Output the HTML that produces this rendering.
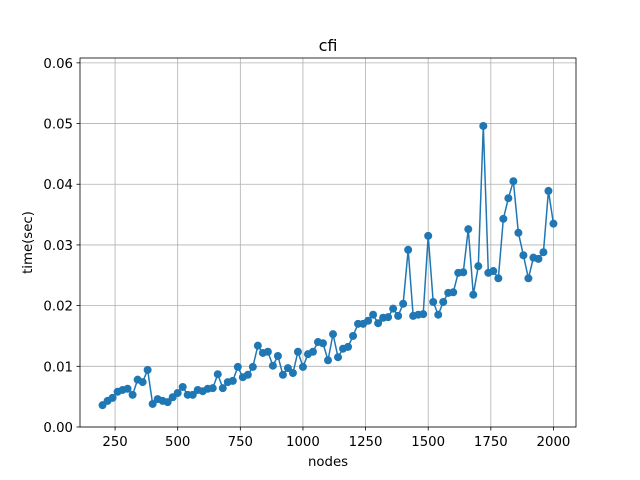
<!DOCTYPE html>
<html><head><meta charset="utf-8"><style>body{margin:0;background:#fff}svg{display:block;font-family:"DejaVu Sans","Liberation Sans",sans-serif}</style></head>
<body>
<svg id="c" width="640" height="480" viewBox="0 0 640 480"></svg>
<script>
const xValues=[];for(let n=200;n<=2000;n+=20)xValues.push(n);
const yValues=[0.0036,0.0043,0.0048,0.0058,0.0061,0.0063,0.0053,0.0078,0.0074,0.0094,0.0038,0.0046,0.0043,0.0041,0.0049,0.0056,0.0066,0.0053,0.0053,0.0061,0.0059,0.0063,0.0064,0.0087,0.0064,0.0074,0.0076,0.0099,0.0082,0.0086,0.0099,0.0134,0.0122,0.0124,0.0101,0.0117,0.0086,0.0097,0.0089,0.0124,0.0099,0.0120,0.0124,0.0140,0.0138,0.0110,0.0153,0.0115,0.0129,0.0132,0.0150,0.0170,0.0170,0.0175,0.0185,0.0171,0.0180,0.0181,0.0195,0.0183,0.0203,0.0292,0.0183,0.0185,0.0186,0.0315,0.0206,0.0185,0.0206,0.0221,0.0222,0.0254,0.0255,0.0326,0.0218,0.0265,0.0496,0.0254,0.0257,0.0245,0.0343,0.0377,0.0405,0.0320,0.0283,0.0245,0.0279,0.0277,0.0288,0.0389,0.0335];
const xTicks=[250,500,750,1000,1250,1500,1750,2000];
const yTicks=[0,0.01,0.02,0.03,0.04,0.05,0.06];
const L=80,R=576,T=58,B=427,xmin=110,xmax=2090,ymin=0,ymax=0.0608;
const sx=v=>L+(v-xmin)/(xmax-xmin)*(R-L), sy=v=>B-(v-ymin)/(ymax-ymin)*(B-T);
const svg=document.getElementById('c'),NS='http://www.w3.org/2000/svg';
function mk(t,a,p){const e=document.createElementNS(NS,t);for(const k in a)e.setAttribute(k,a[k]);(p||svg).appendChild(e);return e;}
const grid=mk('g',{});
const xt=mk('g',{});
xTicks.forEach(v=>{const x=sx(v);mk('line',{x1:x,x2:x,y1:T,y2:B,stroke:'#b0b0b0','stroke-width':0.8},grid);
mk('line',{x1:x,x2:x,y1:B,y2:B+3.5,stroke:'#000','stroke-width':0.8},xt);
const t=mk('text',{x:x,y:B+19,'text-anchor':'middle','font-size':13.3},xt);t.textContent=v;});
const yt=mk('g',{});
yTicks.forEach(v=>{const y=sy(v);mk('line',{x1:L,x2:R,y1:y,y2:y,stroke:'#b0b0b0','stroke-width':0.8},grid);
mk('line',{x1:L-3.5,x2:L,y1:y,y2:y,stroke:'#000','stroke-width':0.8},yt);
const t=mk('text',{x:L-7,y:y+5,'text-anchor':'end','font-size':13.3},yt);t.textContent=v.toFixed(2);});
const pts=xValues.map((v,i)=>sx(v)+','+sy(yValues[i])).join(' ');
const line=mk('polyline',{points:pts,fill:'none',stroke:'#1f77b4','stroke-width':1.5});

xValues.forEach((v,i)=>{const c=mk('circle',{cx:sx(v),cy:sy(yValues[i]),r:4,fill:'#1f77b4'});
});
const fr=mk('rect',{x:L,y:T,width:R-L,height:B-T,fill:'none',stroke:'#000','stroke-width':0.8});

let t=mk('text',{x:(L+R)/2,y:T-7,'text-anchor':'middle','font-size':16});t.textContent='cfi';

t=mk('text',{x:(L+R)/2,y:466,'text-anchor':'middle','font-size':13.3});t.textContent='nodes';

t=mk('text',{x:0,y:0,'text-anchor':'middle','font-size':13.3,transform:'translate(32,'+((T+B)/2)+') rotate(-90)'});t.textContent='time(sec)';

</script>
</body></html>
